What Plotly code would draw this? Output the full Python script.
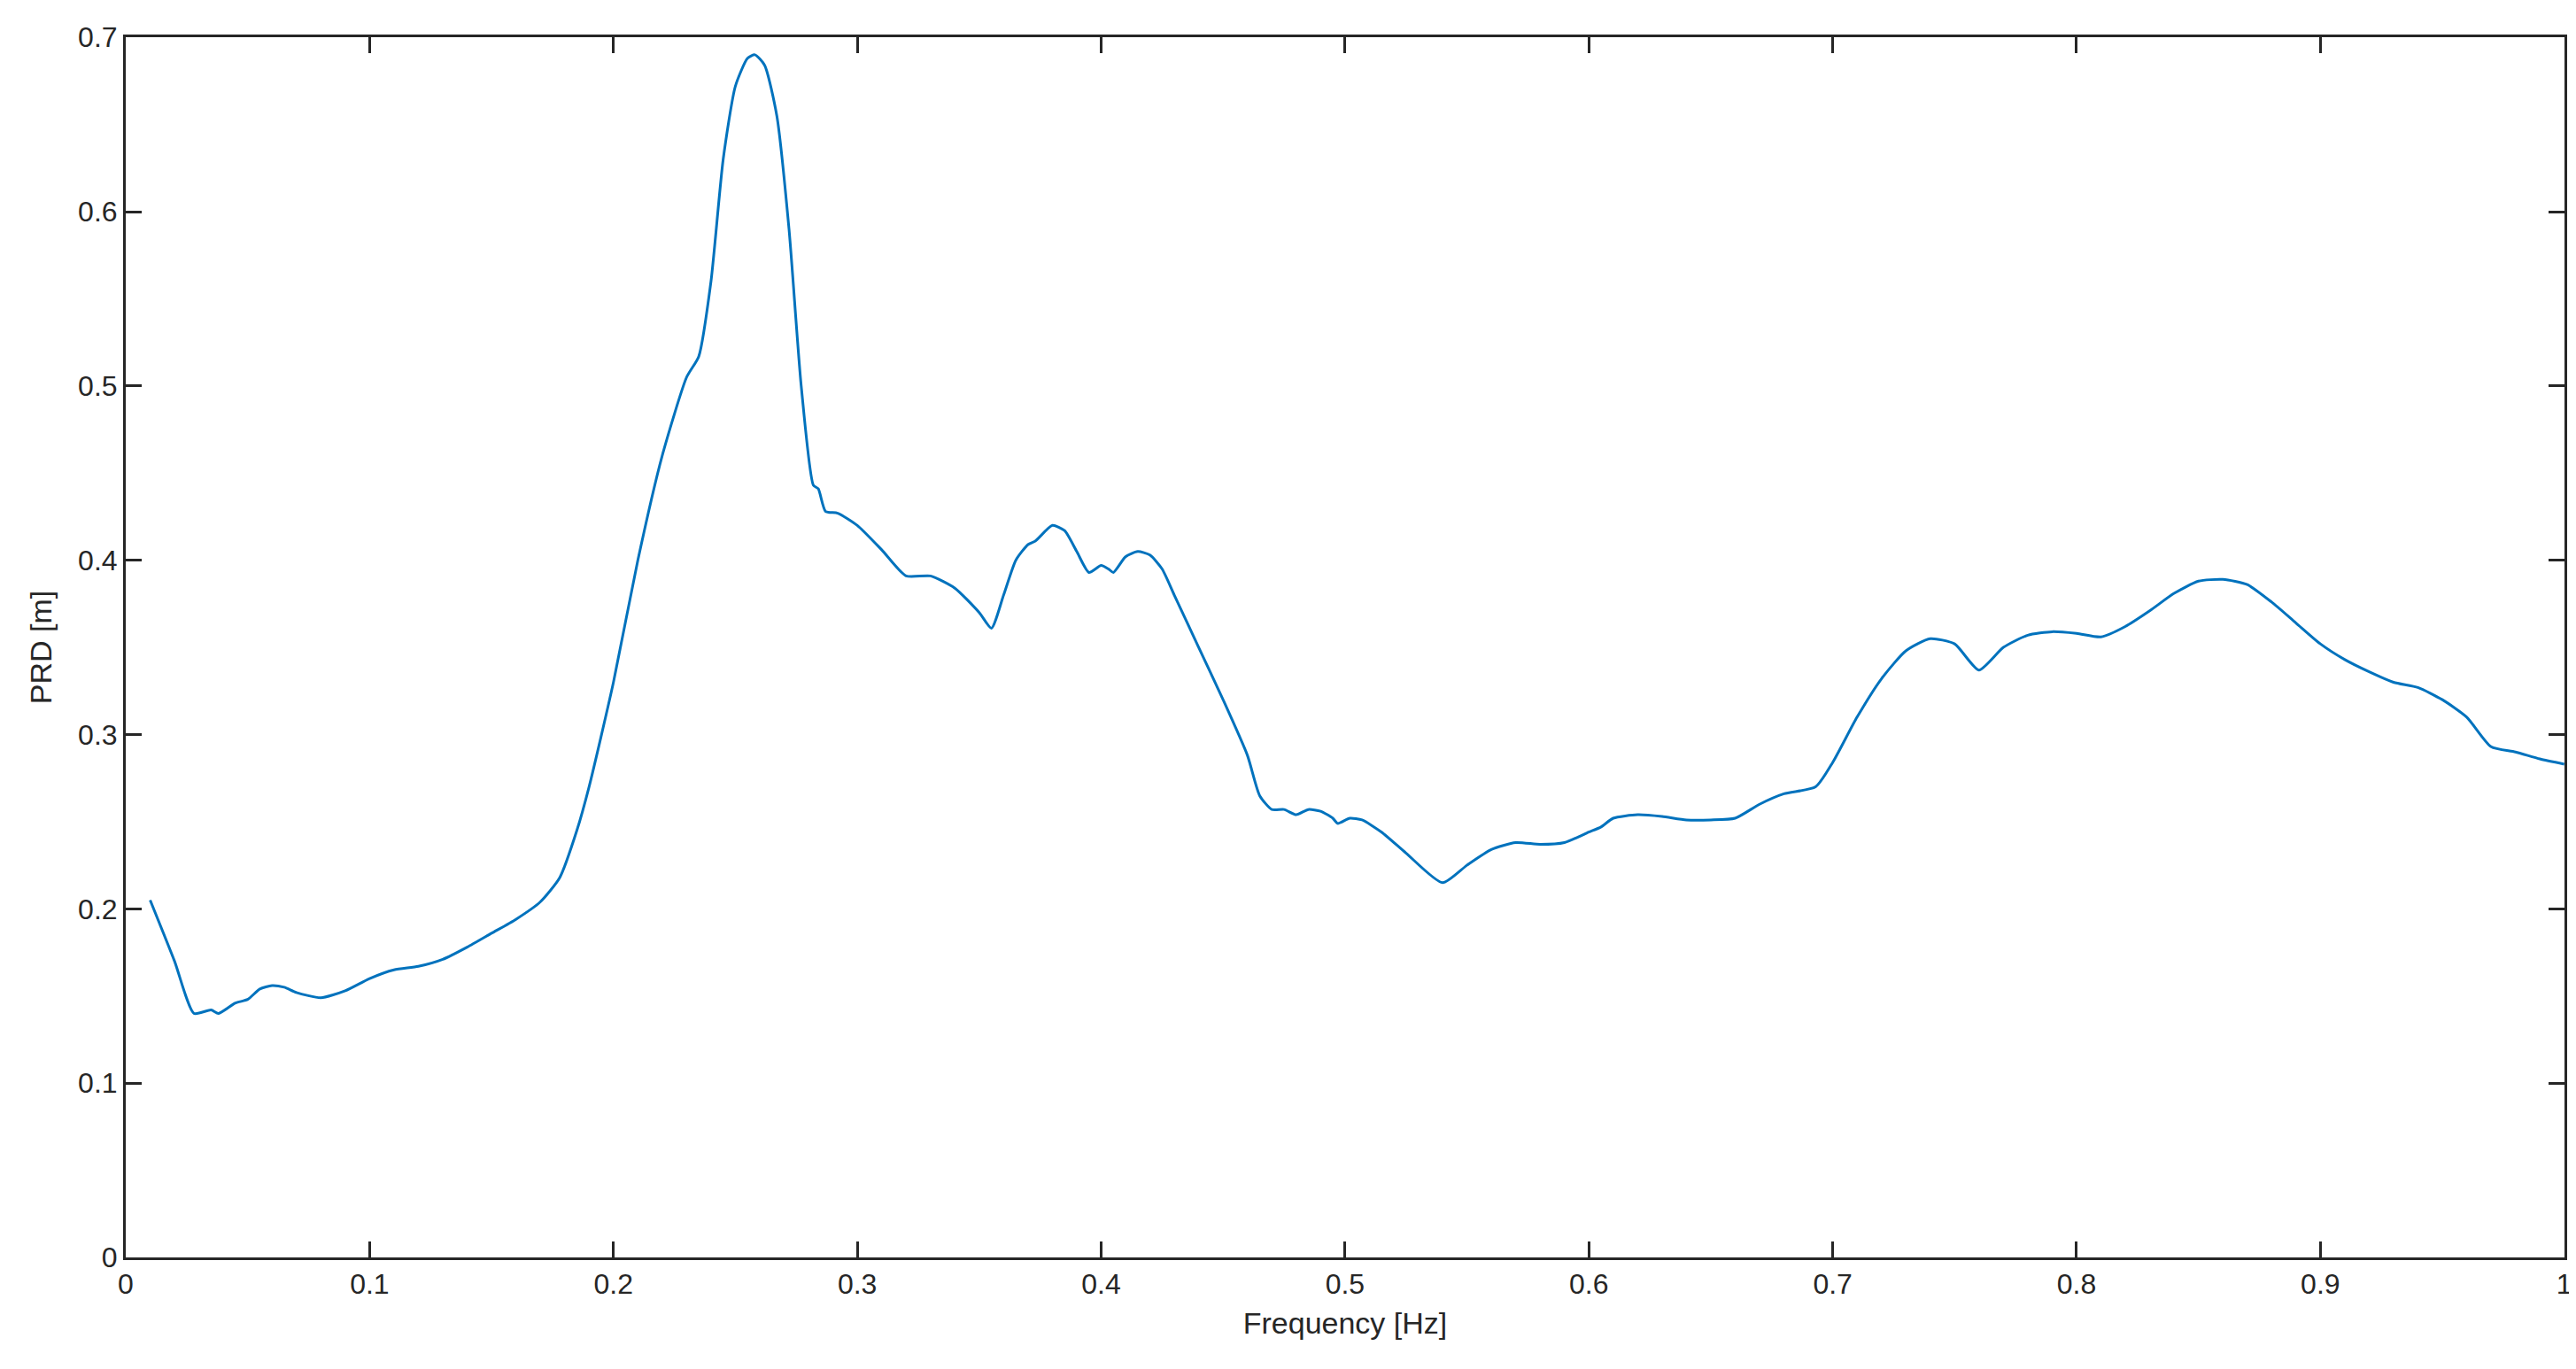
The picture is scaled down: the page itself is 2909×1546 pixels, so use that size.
import plotly.graph_objects as go

freq = [0.01,0.02,0.028,0.035,0.038,0.045,0.05,0.055,0.06,0.065,0.07,0.08,0.09,0.1,0.11,0.12,0.13,0.14,0.15,0.16,0.17,0.178,0.185,0.19,0.2,0.21,0.22,0.23,0.235,0.24,0.245,0.25,0.255,0.258,0.262,0.267,0.272,0.277,0.282,0.284,0.287,0.292,0.3,0.31,0.32,0.33,0.34,0.35,0.355,0.36,0.365,0.37,0.373,0.38,0.385,0.39,0.395,0.4,0.403,0.405,0.41,0.415,0.42,0.425,0.43,0.44,0.45,0.46,0.465,0.47,0.475,0.48,0.485,0.49,0.495,0.497,0.502,0.507,0.515,0.525,0.54,0.55,0.56,0.57,0.58,0.59,0.6,0.605,0.61,0.62,0.63,0.64,0.65,0.66,0.67,0.68,0.693,0.7,0.71,0.72,0.73,0.74,0.75,0.76,0.77,0.78,0.79,0.8,0.81,0.82,0.83,0.84,0.85,0.86,0.87,0.88,0.89,0.9,0.91,0.92,0.93,0.94,0.95,0.96,0.97,0.98,0.99,1.0]
prd = [0.205,0.17,0.14,0.142,0.14,0.146,0.148,0.154,0.156,0.155,0.152,0.149,0.153,0.16,0.165,0.167,0.171,0.178,0.186,0.194,0.204,0.218,0.245,0.27,0.33,0.4,0.46,0.505,0.517,0.56,0.63,0.672,0.688,0.69,0.684,0.655,0.59,0.5,0.443,0.441,0.428,0.427,0.42,0.406,0.391,0.391,0.384,0.37,0.361,0.38,0.4,0.409,0.411,0.42,0.417,0.405,0.393,0.397,0.395,0.393,0.402,0.405,0.403,0.395,0.38,0.35,0.32,0.288,0.265,0.257,0.257,0.254,0.257,0.256,0.252,0.249,0.252,0.251,0.244,0.232,0.215,0.225,0.234,0.238,0.237,0.238,0.244,0.247,0.252,0.254,0.253,0.251,0.251,0.252,0.26,0.266,0.27,0.284,0.31,0.332,0.348,0.355,0.352,0.337,0.35,0.357,0.359,0.358,0.356,0.362,0.371,0.381,0.388,0.389,0.386,0.376,0.364,0.352,0.343,0.336,0.33,0.327,0.32,0.31,0.293,0.29,0.286,0.283]

x_ticks = [0, 0.1, 0.2, 0.3, 0.4, 0.5, 0.6, 0.7, 0.8, 0.9, 1]
x_labels = ["0", "0.1", "0.2", "0.3", "0.4", "0.5", "0.6", "0.7", "0.8", "0.9", "1"]
y_ticks = [0, 0.1, 0.2, 0.3, 0.4, 0.5, 0.6, 0.7]
y_labels = ["0", "0.1", "0.2", "0.3", "0.4", "0.5", "0.6", "0.7"]

fig = go.Figure(go.Scatter(x=freq, y=prd, mode="lines", line=dict(color="#0072BD", width=3, shape="spline", smoothing=0.6)))
ax = dict(showgrid=False, zeroline=False, showline=True, mirror="ticks", linecolor="#262626", linewidth=3,
          ticks="inside", ticklen=18, tickwidth=3, tickcolor="#262626",
          tickfont=dict(family="Liberation Sans, Arial", size=32, color="#262626"),
          title_font=dict(family="Liberation Sans, Arial", size=34, color="#262626"))
fig.update_xaxes(**ax, range=[0, 1.0001], tickmode="array", tickvals=x_ticks, ticktext=x_labels,
                 title_text="Frequency [Hz]", title_standoff=15)
fig.update_yaxes(**ax, range=[0, 0.7001], tickmode="array", tickvals=y_ticks, ticktext=y_labels,
                 title_text="PRD [m]", title_standoff=20)
fig.update_layout(width=2909, height=1546, paper_bgcolor="white", plot_bgcolor="white", showlegend=False,
                  margin=dict(l=134, r=16, t=34, b=134))
fig.write_html("out.html")
